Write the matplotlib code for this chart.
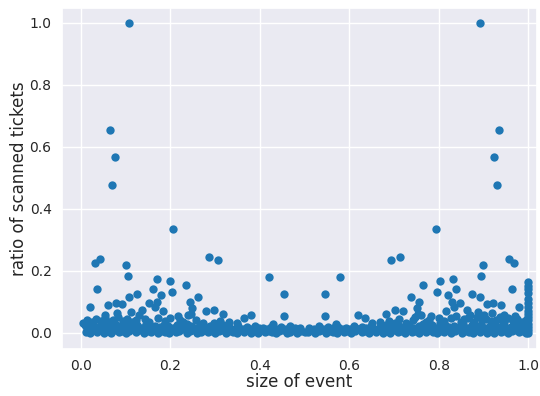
import matplotlib
matplotlib.use("Agg")
import matplotlib.pyplot as plt
import seaborn as sns

# scanned-ticket ratio vs. normalised event size
# tall outliers, left half of the size range
peaks_left = [
    (0.108, 1.000), (0.065, 0.653), (0.076, 0.567), (0.069, 0.476), (0.205, 0.335),
    (0.031, 0.227), (0.043, 0.239), (0.100, 0.220), (0.105, 0.185), (0.036, 0.140),
    (0.286, 0.245), (0.306, 0.235), (0.421, 0.181), (0.455, 0.125), (0.169, 0.175),
    (0.198, 0.168), (0.161, 0.143), (0.234, 0.153), (0.204, 0.132), (0.179, 0.123),
    (0.125, 0.127), (0.107, 0.117), (0.262, 0.115), (0.020, 0.085), (0.061, 0.089),
    (0.078, 0.098), (0.091, 0.094), (0.152, 0.095), (0.170, 0.100), (0.166, 0.084),
    (0.243, 0.100), (0.249, 0.081), (0.136, 0.075), (0.184, 0.072), (0.280, 0.072),
    (0.297, 0.075), (0.239, 0.059), (0.246, 0.061), (0.317, 0.060), (0.365, 0.049),
    (0.380, 0.057), (0.454, 0.053), (0.216, 0.054), (0.199, 0.047), (0.054, 0.059),
    (0.080, 0.063), (0.112, 0.068), (0.130, 0.058), (0.298, 0.031), (0.332, 0.036),
]

# tall outliers, right half
peaks_right = [
    (0.892, 1.000), (0.935, 0.653), (0.924, 0.567), (0.931, 0.476), (0.795, 0.335),
    (0.969, 0.227), (0.957, 0.239), (0.900, 0.220), (0.895, 0.185), (0.964, 0.140),
    (0.714, 0.245), (0.694, 0.235), (0.579, 0.181), (0.545, 0.125), (0.831, 0.175),
    (0.802, 0.168), (0.839, 0.143), (0.766, 0.153), (0.796, 0.132), (0.821, 0.123),
    (0.875, 0.127), (0.893, 0.117), (0.738, 0.115), (0.980, 0.085), (0.939, 0.089),
    (0.922, 0.098), (0.909, 0.094), (0.848, 0.095), (0.830, 0.100), (0.834, 0.084),
    (0.757, 0.100), (0.751, 0.081), (0.864, 0.075), (0.816, 0.072), (0.720, 0.072),
    (0.703, 0.075), (0.761, 0.059), (0.754, 0.061), (0.683, 0.060), (0.635, 0.049),
    (0.620, 0.057), (0.546, 0.053), (0.784, 0.054), (0.801, 0.047), (0.946, 0.059),
    (0.920, 0.063), (0.888, 0.068), (0.870, 0.058), (0.702, 0.031), (0.668, 0.036),
]

# largest events (size 1.0)
edge_column = [
    (1.0, 0.164), (1.0, 0.150), (1.0, 0.140), (1.0, 0.128), (1.0, 0.110),
    (1.0, 0.098), (1.0, 0.085), (1.0, 0.072), (1.0, 0.062), (1.0, 0.050),
    (1.0, 0.040), (1.0, 0.030), (1.0, 0.020), (1.0, 0.010), (1.0, 0.000),
]

# bulk of events with almost no scans, left half
band_left = [
    (0.012, 0.004), (0.020, 0.000), (0.028, 0.008), (0.036, 0.002), (0.044, 0.010),
    (0.052, 0.001), (0.060, 0.006), (0.068, 0.000), (0.076, 0.009), (0.084, 0.003),
    (0.092, 0.007), (0.100, 0.000), (0.108, 0.005), (0.116, 0.011), (0.124, 0.002),
    (0.132, 0.008), (0.140, 0.000), (0.148, 0.006), (0.156, 0.003), (0.164, 0.010),
    (0.172, 0.001), (0.180, 0.007), (0.188, 0.004), (0.196, 0.000), (0.204, 0.009),
    (0.212, 0.002), (0.220, 0.006), (0.228, 0.011), (0.236, 0.001), (0.244, 0.005),
    (0.252, 0.008), (0.260, 0.000), (0.268, 0.004), (0.276, 0.010), (0.284, 0.002),
    (0.292, 0.007), (0.300, 0.000), (0.308, 0.005), (0.316, 0.009), (0.324, 0.001),
    (0.332, 0.006), (0.340, 0.003), (0.348, 0.000), (0.356, 0.008), (0.364, 0.004),
    (0.372, 0.010), (0.380, 0.001), (0.388, 0.006), (0.396, 0.000), (0.404, 0.009),
    (0.412, 0.003), (0.420, 0.007), (0.428, 0.002), (0.436, 0.000), (0.444, 0.005),
    (0.452, 0.010), (0.460, 0.001), (0.468, 0.004), (0.476, 0.008), (0.484, 0.000),
    (0.492, 0.006), (0.500, 0.003),
    (0.008, 0.025), (0.018, 0.018), (0.027, 0.028), (0.038, 0.020), (0.047, 0.015),
    (0.057, 0.026), (0.066, 0.019), (0.077, 0.030), (0.086, 0.022), (0.096, 0.017),
    (0.105, 0.027), (0.116, 0.021), (0.125, 0.024), (0.135, 0.016), (0.146, 0.029),
    (0.155, 0.020), (0.165, 0.023), (0.176, 0.018), (0.185, 0.027), (0.194, 0.021),
    (0.206, 0.016), (0.215, 0.025), (0.226, 0.019), (0.236, 0.028), (0.245, 0.022),
    (0.256, 0.017), (0.266, 0.026), (0.277, 0.020), (0.288, 0.023), (0.302, 0.018),
    (0.318, 0.024), (0.334, 0.017), (0.352, 0.021), (0.371, 0.019), (0.389, 0.023),
    (0.408, 0.016), (0.426, 0.020), (0.447, 0.018), (0.468, 0.022), (0.490, 0.017),
    (0.005, 0.032), (0.014, 0.040), (0.024, 0.035), (0.034, 0.045), (0.044, 0.038),
    (0.053, 0.048), (0.063, 0.036), (0.072, 0.043), (0.083, 0.050), (0.093, 0.039),
    (0.103, 0.046), (0.114, 0.034), (0.122, 0.041), (0.143, 0.044), (0.151, 0.036),
    (0.173, 0.047), (0.188, 0.038), (0.221, 0.042), (0.228, 0.035), (0.257, 0.040),
    (0.272, 0.033), (0.310, 0.038), (0.350, 0.032), (0.430, 0.030),
    (0.013, 0.014), (0.023, 0.012), (0.032, 0.015), (0.041, 0.013), (0.050, 0.016),
    (0.062, 0.012), (0.071, 0.015), (0.081, 0.013), (0.090, 0.016), (0.101, 0.012),
    (0.111, 0.015), (0.120, 0.014), (0.130, 0.012), (0.139, 0.016), (0.150, 0.013),
    (0.160, 0.015), (0.170, 0.012), (0.181, 0.014), (0.190, 0.016), (0.200, 0.012),
    (0.211, 0.015), (0.222, 0.013), (0.232, 0.016), (0.241, 0.012), (0.251, 0.014),
    (0.262, 0.013), (0.272, 0.015), (0.282, 0.012), (0.294, 0.014), (0.312, 0.013),
    (0.326, 0.015), (0.344, 0.012), (0.362, 0.014), (0.381, 0.013), (0.399, 0.015),
    (0.417, 0.012), (0.437, 0.014), (0.458, 0.013), (0.479, 0.015),
]

# bulk of events with almost no scans, right half
band_right = [
    (0.508, 0.002), (0.516, 0.008), (0.524, 0.000), (0.532, 0.005), (0.540, 0.010),
    (0.548, 0.001), (0.556, 0.006), (0.564, 0.003), (0.572, 0.000), (0.580, 0.009),
    (0.588, 0.004), (0.596, 0.007), (0.604, 0.000), (0.612, 0.005), (0.620, 0.011),
    (0.628, 0.002), (0.636, 0.006), (0.644, 0.000), (0.652, 0.008), (0.660, 0.003),
    (0.668, 0.010), (0.676, 0.001), (0.684, 0.006), (0.692, 0.000), (0.700, 0.009),
    (0.708, 0.004), (0.716, 0.007), (0.724, 0.001), (0.732, 0.011), (0.740, 0.003),
    (0.748, 0.006), (0.756, 0.000), (0.764, 0.008), (0.772, 0.002), (0.780, 0.010),
    (0.788, 0.004), (0.796, 0.000), (0.804, 0.007), (0.812, 0.002), (0.820, 0.009),
    (0.828, 0.000), (0.836, 0.005), (0.844, 0.011), (0.852, 0.001), (0.860, 0.006),
    (0.868, 0.003), (0.876, 0.000), (0.884, 0.008), (0.892, 0.004), (0.900, 0.010),
    (0.908, 0.001), (0.916, 0.006), (0.924, 0.000), (0.932, 0.009), (0.940, 0.003),
    (0.948, 0.007), (0.956, 0.000), (0.964, 0.005), (0.972, 0.010), (0.980, 0.002),
    (0.988, 0.006), (0.996, 0.000),
    (0.510, 0.017), (0.532, 0.022), (0.553, 0.018), (0.574, 0.020), (0.592, 0.016),
    (0.611, 0.023), (0.629, 0.019), (0.648, 0.021), (0.666, 0.017), (0.682, 0.024),
    (0.698, 0.018), (0.712, 0.023), (0.723, 0.020), (0.734, 0.026), (0.744, 0.017),
    (0.755, 0.022), (0.764, 0.028), (0.774, 0.019), (0.785, 0.025), (0.794, 0.016),
    (0.806, 0.021), (0.815, 0.027), (0.824, 0.018), (0.835, 0.023), (0.845, 0.020),
    (0.854, 0.029), (0.865, 0.016), (0.875, 0.024), (0.884, 0.021), (0.895, 0.027),
    (0.904, 0.017), (0.914, 0.022), (0.923, 0.030), (0.934, 0.019), (0.943, 0.026),
    (0.953, 0.015), (0.962, 0.020), (0.973, 0.028), (0.982, 0.018), (0.992, 0.025),
    (0.570, 0.030), (0.650, 0.032), (0.690, 0.038), (0.728, 0.033), (0.743, 0.040),
    (0.772, 0.035), (0.779, 0.042), (0.812, 0.038), (0.827, 0.047), (0.849, 0.036),
    (0.857, 0.044), (0.878, 0.034), (0.886, 0.050), (0.897, 0.041), (0.907, 0.046),
    (0.917, 0.039), (0.928, 0.043), (0.937, 0.050), (0.947, 0.036), (0.956, 0.048),
    (0.966, 0.038), (0.976, 0.045), (0.986, 0.035), (0.995, 0.040),
    (0.521, 0.014), (0.542, 0.012), (0.563, 0.015), (0.583, 0.013), (0.601, 0.014),
    (0.620, 0.012), (0.638, 0.015), (0.656, 0.013), (0.674, 0.014), (0.690, 0.012),
    (0.706, 0.015), (0.718, 0.013), (0.729, 0.012), (0.739, 0.015), (0.750, 0.013),
    (0.760, 0.016), (0.769, 0.012), (0.779, 0.014), (0.790, 0.013), (0.800, 0.015),
    (0.810, 0.012), (0.820, 0.014), (0.830, 0.016), (0.840, 0.013), (0.850, 0.015),
    (0.860, 0.012), (0.870, 0.014), (0.880, 0.016), (0.889, 0.013), (0.899, 0.015),
    (0.909, 0.012), (0.919, 0.014), (0.929, 0.016), (0.938, 0.013), (0.948, 0.015),
    (0.958, 0.012), (0.968, 0.014), (0.978, 0.016), (0.987, 0.013),
    (0.712, 0.045), (0.748, 0.052), (0.804, 0.033), (0.838, 0.055), (0.866, 0.048),
    (0.902, 0.058), (0.941, 0.042), (0.971, 0.055),
]

tick_values = [0.0, 0.2, 0.4, 0.6, 0.8, 1.0]

sns.set()

points = band_left + band_right + edge_column + peaks_left + peaks_right
size = [p[0] for p in points]
ratio = [p[1] for p in points]

fig = plt.figure(figsize=(5.4, 3.96), dpi=100)
ax = fig.add_axes([62 / 540, 47 / 396, 475 / 540, 341 / 396])
ax.scatter(size, ratio, s=36, color="#1f77b4", linewidths=0)

ax.set_xlim(-0.0425, 1.02)
ax.set_ylim(-0.052, 1.048)
ax.set_xticks(tick_values)
ax.set_yticks(tick_values)
ax.tick_params(labelsize=10, pad=1.5)
ax.set_xlabel("size of event", fontsize=12, labelpad=0)
ax.set_ylabel("ratio of scanned tickets", fontsize=12, labelpad=1)

fig.savefig("out.png", dpi=100)
